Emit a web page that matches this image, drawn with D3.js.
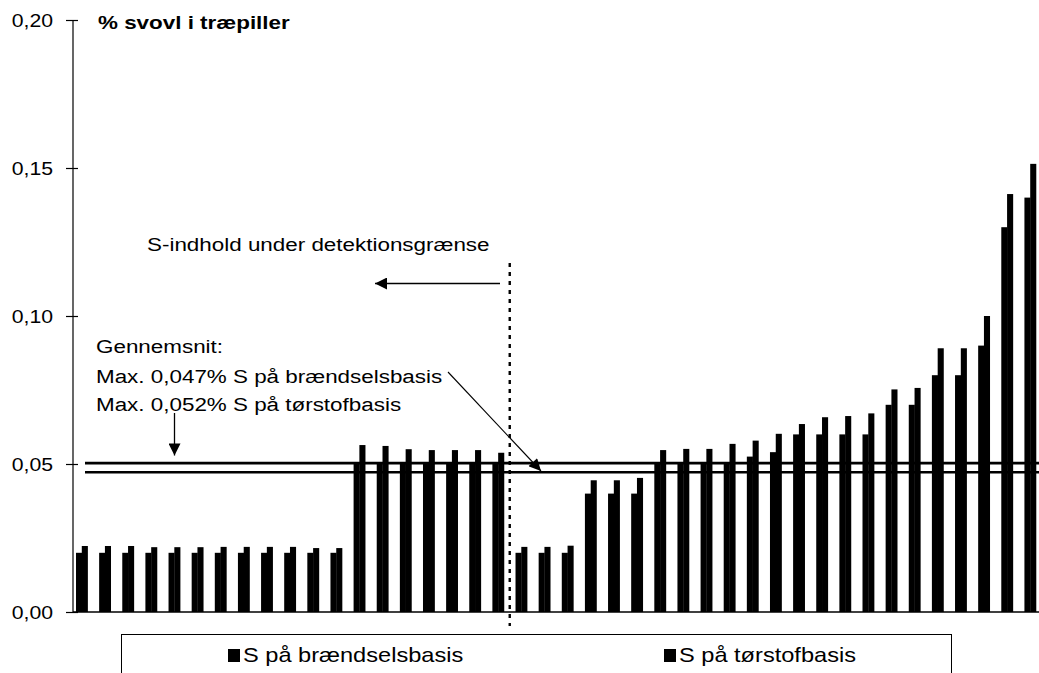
<!DOCTYPE html>
<html>
<head>
<meta charset="utf-8">
<script src="https://cdn.jsdelivr.net/npm/d3@7"></script>
<style>
  html, body { margin: 0; padding: 0; background: #fff; }
  svg { display: block; }
  text { font-family: "Liberation Sans", Arial, sans-serif; fill: #000; }
</style>
</head>
<body>
<svg id="chart" width="1039" height="673"></svg>
<script>
// ---- data ----
const samples = d3.range(1, 43).map(i => "P" + i);
const brandsel = [
  0.020, 0.020, 0.020, 0.020, 0.020, 0.020, 0.020, 0.020, 0.020, 0.020, 0.020, 0.020,
  0.050, 0.050, 0.050, 0.050, 0.050, 0.050, 0.050,
  0.020, 0.020, 0.020,
  0.040, 0.040, 0.040,
  0.050, 0.050, 0.050, 0.050, 0.0525, 0.054,
  0.060, 0.060, 0.060, 0.060, 0.070, 0.070, 0.080, 0.080, 0.090, 0.130, 0.140
];
const torstof = [
  0.0223, 0.0223, 0.0223, 0.0219, 0.0219, 0.0219, 0.0220, 0.0220, 0.0220, 0.0220, 0.0216, 0.0216,
  0.0564, 0.0561, 0.0550, 0.0547, 0.0547, 0.0547, 0.0538,
  0.0220, 0.0220, 0.0224,
  0.0445, 0.0445, 0.0453,
  0.0547, 0.0551, 0.0551, 0.0568, 0.0579, 0.0602,
  0.0635, 0.0658, 0.0662, 0.0671, 0.0752, 0.0757, 0.0891, 0.0891, 0.100, 0.1412, 0.1514
];
const seriesNames = ["S på brændselsbasis", "S på tørstofbasis"];
const yTicks = [0, 0.05, 0.10, 0.15, 0.20];
const avgLines = [0.0503, 0.0472];
const yTitle = "% svovl i træpiller";
const detectionText = "S-indhold under detektionsgrænse";
const avgText = ["Gennemsnit:", "Max. 0,047% S på brændselsbasis", "Max. 0,052% S på tørstofbasis"];
const detectionIndex = 19; // first sample right of the dotted line

// ---- layout ----
const svg = d3.select("#chart");
const X0 = 73, X1 = 1039, Y0 = 612, Y1 = 20;
const SX = 1.18; // horizontal stretch of the scanned lettering

const y = d3.scaleLinear().domain([0, 0.20]).range([Y0, Y1]);
const x = d3.scaleBand().domain(samples).range([X0, X1]).paddingInner(0.5).paddingOuter(0.13);
const xs = d3.scaleBand().domain([0, 1]).range([0, x.bandwidth()]).padding(0);

function stretchedText(parent, tx, ty, str, size, opts = {}) {
  const g = parent.append("g").attr("transform", `translate(${tx},${ty}) scale(${SX},1)`);
  const t = g.append("text").attr("x", 0).attr("y", 0)
    .style("font-size", size + "px")
    .attr("text-anchor", opts.anchor || "start")
    .text(str);
  if (opts.bold) t.style("font-weight", "bold");
  return t;
}

const defs = svg.append("defs");
defs.append("marker").attr("id", "ah").attr("viewBox", "0 0 10 10")
  .attr("refX", 10).attr("refY", 5).attr("markerWidth", 14).attr("markerHeight", 12)
  .attr("markerUnits", "userSpaceOnUse").attr("orient", "auto")
  .append("path").attr("d", "M0,0 L10,5 L0,10 Z").attr("fill", "#000");

// ---- bars ----
const groups = svg.append("g").selectAll("g").data(samples).join("g")
  .attr("transform", d => `translate(${x(d)},0)`);
groups.selectAll("rect")
  .data((d, i) => [brandsel[i], torstof[i]])
  .join("rect")
  .attr("x", (v, j) => xs(j))
  .attr("width", xs.bandwidth() + 0.3)
  .attr("y", v => y(v))
  .attr("height", v => Y0 - y(v))
  .attr("fill", "#000");

// ---- average lines ----
svg.append("g").selectAll("line").data(avgLines).join("line")
  .attr("x1", 85).attr("x2", X1)
  .attr("y1", d => y(d)).attr("y2", d => y(d))
  .attr("stroke", "#000").attr("stroke-width", 2.6);

// ---- axes ----
const yAxis = d3.axisLeft(y).tickValues(yTicks).tickSize(0)
  .tickFormat(d => d3.format(".2f")(d).replace(".", ","));
const ya = svg.append("g").attr("transform", `translate(${X0},0)`).call(yAxis);
ya.select(".domain").remove();
ya.selectAll(".tick text").remove();
ya.selectAll(".tick").append("line").attr("x1", -7).attr("x2", 5).attr("stroke", "#000").attr("stroke-width", 1.2);
yTicks.forEach(v => {
  stretchedText(svg, 53, y(v) + 6.5, yAxis.tickFormat()(v), 18, { anchor: "end" });
});
svg.append("line").attr("x1", X0).attr("x2", X0).attr("y1", Y1).attr("y2", Y0)
  .attr("stroke", "#000").attr("stroke-width", 1.2);
const xAxis = d3.axisBottom(x).tickSize(0).tickFormat("");
const xa = svg.append("g").attr("transform", `translate(0,${Y0})`).call(xAxis);
xa.select(".domain").attr("stroke", "#000").attr("stroke-width", 1.4).attr("d", `M${X0},0H${X1}`);

// ---- title ----
stretchedText(svg, 98, 28.5, yTitle, 19, { bold: true });

// ---- detection limit divider ----
const divX = (x(samples[detectionIndex - 1]) + x.bandwidth() + x(samples[detectionIndex])) / 2;
svg.append("line").attr("x1", divX).attr("x2", divX).attr("y1", 263).attr("y2", 626)
  .attr("stroke", "#000").attr("stroke-width", 2.4).attr("stroke-dasharray", "4,5");
stretchedText(svg, 147, 250.5, detectionText, 19);
svg.append("line").attr("x1", 500).attr("x2", 375).attr("y1", 283.5).attr("y2", 283.5)
  .attr("stroke", "#000").attr("stroke-width", 1.3).attr("marker-end", "url(#ah)");

// ---- averages annotation ----
const avgY = [353, 383, 410.5];
avgText.forEach((s, i) => stretchedText(svg, 96, avgY[i], s, 19));
svg.append("line").attr("x1", 174.5).attr("x2", 174.5).attr("y1", 413).attr("y2", 455.5)
  .attr("stroke", "#000").attr("stroke-width", 1.3).attr("marker-end", "url(#ah)");
svg.append("line").attr("x1", 448).attr("y1", 372).attr("x2", 541).attr("y2", 471)
  .attr("stroke", "#000").attr("stroke-width", 1.1).attr("marker-end", "url(#ah)");

// ---- legend ----
svg.append("rect").attr("x", 121.5).attr("y", 634.5).attr("width", 830).attr("height", 60)
  .attr("fill", "none").attr("stroke", "#000").attr("stroke-width", 1);
const legX = [228, 664];
seriesNames.forEach((s, i) => {
  svg.append("rect").attr("x", legX[i]).attr("y", 649).attr("width", 12).attr("height", 13).attr("fill", "#000");
  stretchedText(svg, legX[i] + 15, 662, s, 20);
});
</script>
</body>
</html>
